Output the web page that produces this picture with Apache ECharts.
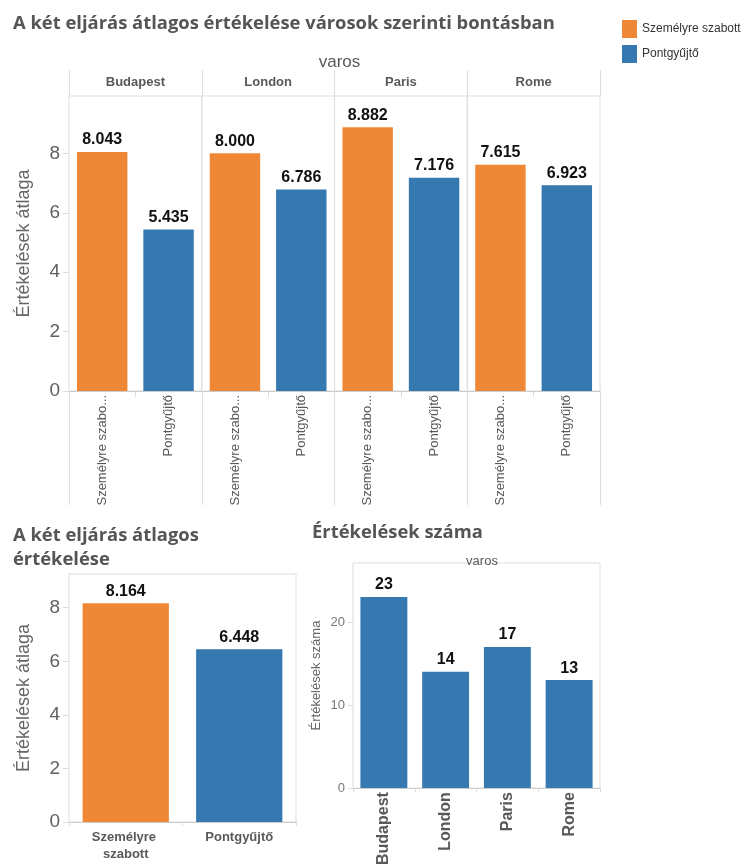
<!DOCTYPE html>
<html>
<head>
<meta charset="utf-8">
<script src="https://cdn.jsdelivr.net/npm/echarts@6/dist/echarts.min.js"></script>
<style>
  html, body { margin: 0; padding: 0; background: #fff; }
  #chart { width: 753px; height: 868px; }
</style>
</head>
<body>
<div id="chart"></div>
<script>
// Average rating of the two methods per city, overall, and number of ratings
const cities = ['Budapest', 'London', 'Paris', 'Rome'];
const methods = ['Személyre szabott', 'Pontgyűjtő'];
const personalAvg = [8.043, 8.000, 8.882, 7.615];
const pointsAvg = [5.435, 6.786, 7.176, 6.923];
const overallAvg = [8.164, 6.448];
const reviewCount = [23, 14, 17, 13];
const avgTicks = [0, 2, 4, 6, 8];
const countTicks = [0, 10, 20];

const ORANGE = '#EF8836';
const BLUE = '#3678B0';
const GRAY_TXT = '#595959';
const BORDER = '#dddddd';
const FONT = 'Liberation Sans, Arial, sans-serif';
const TITLE_FONT = 'Open Sans, DejaVu Sans, sans-serif';

const chart = echarts.init(document.getElementById('chart'), null, { renderer: 'canvas' });

const grids = [], xAxes = [], yAxes = [], series = [];

const valueLabel = (digits, size) => ({
  show: true,
  position: 'top',
  distance: 4,
  fontFamily: FONT,
  fontWeight: 'bold',
  fontSize: size,
  color: '#111',
  formatter: p => Number(p.value).toFixed(digits)
});

// shorten long method names under the narrow city columns
const MAX_CHARS = 15;
const shortLabel = name => (name.length > MAX_CHARS ? name.slice(0, MAX_CHARS) + '...' : name);

// ---- Top: one panel per city ----
const panelLeft = 69, panelW = 132.75, panelTop = 96, panelH = 295;
cities.forEach((city, i) => {
  grids.push({
    left: panelLeft + i * panelW, top: panelTop, width: panelW, height: panelH,
    show: true, borderColor: BORDER, borderWidth: 1, containLabel: false
  });
  const base = xAxes.length;
  // method axis under the bars
  xAxes.push({
    type: 'category', gridIndex: i, data: methods, position: 'bottom',
    axisLine: { show: true, lineStyle: { color: '#cccccc' } },
    axisTick: { show: true, length: 6, lineStyle: { color: BORDER } },
    axisLabel: {
      interval: 0, rotate: 90, margin: 4, fontFamily: FONT, fontSize: 13, color: GRAY_TXT,
      formatter: shortLabel
    }
  });
  // city header above the panel
  xAxes.push({
    type: 'category', gridIndex: i, data: [city], position: 'top',
    axisLine: { show: false },
    axisTick: { show: true, length: 26, lineStyle: { color: BORDER } },
    axisLabel: { margin: 7, fontFamily: FONT, fontSize: 13, fontWeight: 'bold', color: GRAY_TXT }
  });
  // long dividers between the city columns below the axis
  xAxes.push({
    type: 'category', gridIndex: i, data: [''], position: 'bottom',
    axisLine: { show: false },
    axisTick: { show: true, length: 114, lineStyle: { color: BORDER } },
    axisLabel: { show: false }
  });
  yAxes.push({
    type: 'value', gridIndex: i, min: 0, max: 9.93,
    axisLine: { show: false },
    splitLine: { show: false },
    axisTick: { show: i === 0, length: 6, customValues: avgTicks, lineStyle: { color: BORDER } },
    axisLabel: {
      show: i === 0, customValues: avgTicks, margin: 9,
      fontFamily: FONT, fontSize: 19, color: '#606060'
    },
    name: i === 0 ? 'Értékelések átlaga' : '',
    nameLocation: 'middle', nameRotate: 90, nameGap: 36,
    nameTextStyle: { fontFamily: FONT, fontSize: 18, color: '#666' }
  });
  series.push({
    type: 'bar', name: methods[0], xAxisIndex: base, yAxisIndex: i, stack: 'city' + i,
    data: [personalAvg[i], null], barCategoryGap: '24%',
    itemStyle: { color: ORANGE }, label: valueLabel(3, 16)
  });
  series.push({
    type: 'bar', name: methods[1], xAxisIndex: base, yAxisIndex: i, stack: 'city' + i,
    data: [null, pointsAvg[i]], barCategoryGap: '24%',
    itemStyle: { color: BLUE }, label: valueLabel(3, 16)
  });
});

// ---- Bottom left: overall average per method ----
const gOverall = grids.length;
grids.push({ left: 69, top: 574, width: 227, height: 248, show: true, borderColor: BORDER, borderWidth: 1 });
const xOverall = xAxes.length;
xAxes.push({
  type: 'category', gridIndex: gOverall, data: methods,
  axisLine: { show: true, lineStyle: { color: '#cccccc' } },
  axisTick: { show: true, length: 4, lineStyle: { color: BORDER } },
  axisLabel: {
    interval: 0, margin: 7, fontFamily: FONT, fontSize: 13, fontWeight: 'bold', color: GRAY_TXT,
    width: 100, overflow: 'break', lineHeight: 17
  }
});
const yOverall = yAxes.length;
yAxes.push({
  type: 'value', gridIndex: gOverall, min: 0, max: 9.26,
  axisLine: { show: false }, splitLine: { show: false },
  axisTick: { show: true, length: 6, customValues: avgTicks, lineStyle: { color: BORDER } },
  axisLabel: { customValues: avgTicks, margin: 9, fontFamily: FONT, fontSize: 19, color: '#606060' },
  name: 'Értékelések átlaga', nameLocation: 'middle', nameRotate: 90, nameGap: 36,
  nameTextStyle: { fontFamily: FONT, fontSize: 18, color: '#666' }
});
series.push({
  type: 'bar', name: methods[0], xAxisIndex: xOverall, yAxisIndex: yOverall, stack: 'overall',
  data: [overallAvg[0], null], barCategoryGap: '24%',
  itemStyle: { color: ORANGE }, label: valueLabel(3, 16)
});
series.push({
  type: 'bar', name: methods[1], xAxisIndex: xOverall, yAxisIndex: yOverall, stack: 'overall',
  data: [null, overallAvg[1]], barCategoryGap: '24%',
  itemStyle: { color: BLUE }, label: valueLabel(3, 16)
});

// ---- Bottom right: number of ratings per city ----
const gCount = grids.length;
grids.push({ left: 353, top: 563, width: 247, height: 230, show: true, borderColor: BORDER, borderWidth: 1 });
const xCount = xAxes.length;
xAxes.push({
  type: 'category', gridIndex: gCount, data: cities,
  axisLine: { show: true, lineStyle: { color: '#cccccc' } },
  axisTick: { show: true, length: 4, lineStyle: { color: BORDER } },
  axisLabel: { interval: 0, rotate: 90, margin: 4, fontFamily: FONT, fontSize: 16, fontWeight: 'bold', color: GRAY_TXT }
});
const yCount = yAxes.length;
yAxes.push({
  type: 'value', gridIndex: gCount, min: 0, max: 27.1,
  axisLine: { show: false }, splitLine: { show: false },
  axisTick: { show: true, length: 5, customValues: countTicks, lineStyle: { color: BORDER } },
  axisLabel: { customValues: countTicks, margin: 8, fontFamily: FONT, fontSize: 13, color: '#777' },
  name: 'Értékelések száma', nameLocation: 'middle', nameRotate: 90, nameGap: 30,
  nameTextStyle: { fontFamily: FONT, fontSize: 13, color: '#666' }
});
series.push({
  type: 'bar', name: 'Értékelések száma', xAxisIndex: xCount, yAxisIndex: yCount,
  data: reviewCount, barCategoryGap: '24%',
  itemStyle: { color: BLUE }, label: valueLabel(0, 16)
});

chart.setOption({
  animation: false,
  backgroundColor: '#ffffff',
  title: [
    {
      text: 'A két eljárás átlagos értékelése városok szerinti bontásban',
      left: 8, top: 10,
      textStyle: { fontFamily: TITLE_FONT, fontWeight: 'bold', fontSize: 18.4, color: '#555' }
    },
    {
      text: 'varos', left: 334.5, top: 49, textAlign: 'center',
      textStyle: { fontFamily: FONT, fontWeight: 'normal', fontSize: 17, color: GRAY_TXT }
    },
    {
      text: 'A két eljárás átlagos\nértékelése', left: 8, top: 519,
      textStyle: { fontFamily: TITLE_FONT, fontWeight: 'bold', fontSize: 18.4, color: '#555', lineHeight: 24 }
    },
    {
      text: 'Értékelések száma', left: 307, top: 519,
      textStyle: { fontFamily: TITLE_FONT, fontWeight: 'bold', fontSize: 18.4, color: '#555' }
    },
    {
      text: 'varos', left: 477, top: 550, textAlign: 'center',
      textStyle: { fontFamily: FONT, fontWeight: 'normal', fontSize: 13, color: GRAY_TXT }
    }
  ],
  legend: {
    data: methods,
    orient: 'vertical', left: 617, top: 15,
    icon: 'rect', itemWidth: 15, itemHeight: 18, itemGap: 7,
    textStyle: { fontFamily: FONT, fontSize: 12, color: '#333' }
  },
  grid: grids,
  xAxis: xAxes,
  yAxis: yAxes,
  series: series
});
</script>
</body>
</html>
